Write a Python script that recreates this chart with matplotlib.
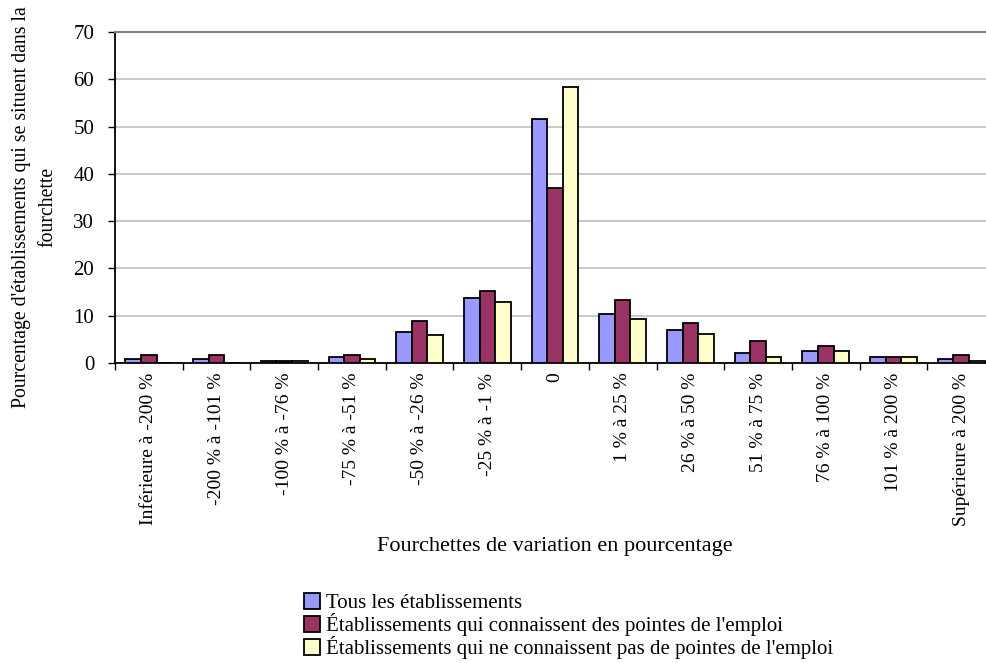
import numpy as np
import matplotlib.pyplot as plt

plt.rcParams['font.family'] = ['Liberation Serif', 'DejaVu Serif']

# ranges of percentage variation
categories = ["Inférieure à -200 %", "-200 % à -101 %", "-100 % à -76 %", "-75 % à -51 %",
              "-50 % à -26 %", "-25 % à -1 %", "0", "1 % à 25 %", "26 % à 50 %",
              "51 % à 75 %", "76 % à 100 %", "101 % à 200 %", "Supérieure à 200 %"]

tous = [0.8, 0.8, 0.4, 1.2, 6.6, 13.8, 51.7, 10.4, 7.0, 2.1, 2.5, 1.2, 0.8]
avec_pointes = [1.7, 1.7, 0.4, 1.7, 8.8, 15.2, 37.1, 13.4, 8.4, 4.6, 3.7, 1.2, 1.7]
sans_pointes = [0.0, 0.0, 0.4, 0.8, 5.9, 13.0, 58.4, 9.2, 6.2, 1.2, 2.5, 1.2, 0.4]

series_labels = ["Tous les établissements",
                 "Établissements qui connaissent des pointes de l'emploi",
                 "Établissements qui ne connaissent pas de pointes de l'emploi"]
colors = ["#9999FF", "#993366", "#FFFFCC"]

fig = plt.figure(figsize=(9.86, 6.63), dpi=100)
ax = fig.add_axes([115/986, 1 - 363/663, 880/986, 331/663])

x = np.arange(len(categories))
w = 0.23
for i, (vals, lab, col) in enumerate(zip([tous, avec_pointes, sans_pointes], series_labels, colors)):
    ax.bar(x + (i - 1) * w, vals, width=w, color=col, edgecolor="black", linewidth=1.3,
           label=lab, zorder=3)

ax.set_xlim(-0.5, len(categories) - 0.5)
ax.set_ylim(0, 70)
ax.set_yticks(range(0, 71, 10))
ax.yaxis.grid(True, color="#C0C0C0", linewidth=1.2, zorder=0)
ax.set_axisbelow(True)

# ticks at group boundaries, labels centered on the groups
ax.set_xticks(np.arange(-0.5, len(categories), 1))
ax.set_xticklabels([])
ax.set_xticks(x, minor=True)
ax.set_xticklabels(categories, minor=True, rotation=90, fontsize=14)
ax.tick_params(axis='x', which='minor', length=0, pad=7)
ax.tick_params(axis='x', which='major', length=5, direction='out', width=1)
ax.tick_params(axis='y', length=5, width=1, labelsize=15, pad=10)

ax.spines['right'].set_visible(False)
ax.spines['top'].set_color("#808080")
ax.spines['top'].set_linewidth(1.5)
ax.spines['left'].set_linewidth(1.3)
ax.spines['bottom'].set_linewidth(1.3)

ax.set_xlabel("Fourchettes de variation en pourcentage", fontsize=16, labelpad=8)
ax.set_ylabel("Pourcentage d'établissements qui se situent dans la\nfourchette", fontsize=14.2,
              linespacing=1.55, va='center')
ax.yaxis.set_label_coords(-0.091, 0.47)

fig.legend(loc="upper left", bbox_to_anchor=(296/986, 1 - 585/663), frameon=False,
           fontsize=15, handlelength=0.75, handleheight=0.75, handletextpad=0.3,
           labelspacing=0.0, borderaxespad=0)

fig.savefig("out.png", dpi=100)
